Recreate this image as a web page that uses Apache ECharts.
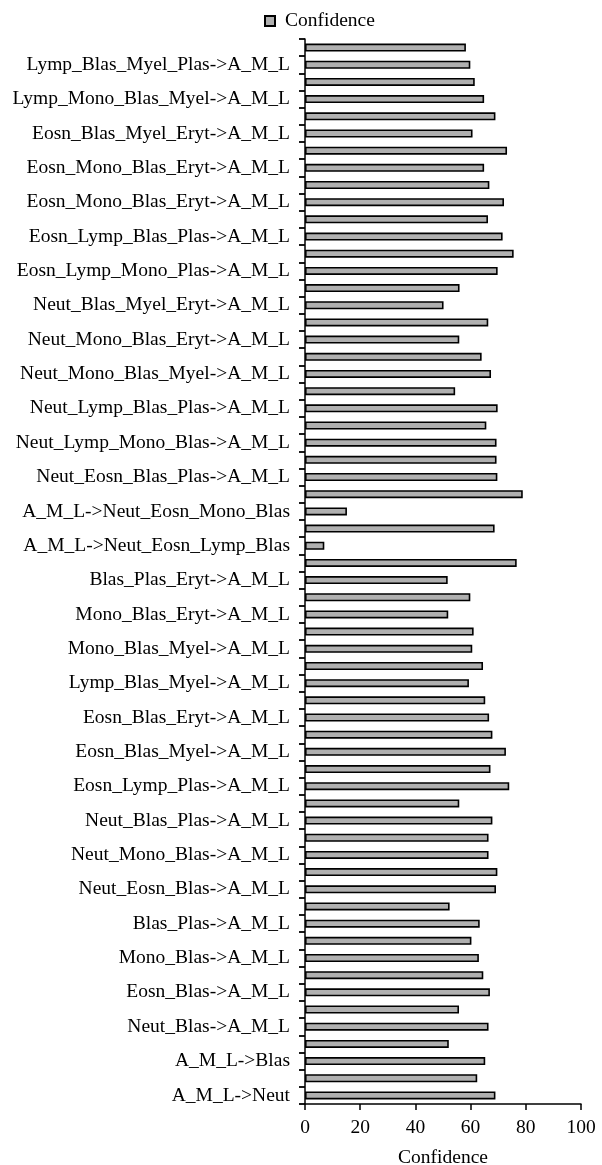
<!DOCTYPE html>
<html>
<head>
<meta charset="utf-8">
<title>Confidence</title>
<script src="https://cdn.jsdelivr.net/npm/echarts@6/dist/echarts.min.js"></script>
<style>
  html, body { margin: 0; padding: 0; background: #fff; }
  #chart { width: 602px; height: 1165px; }
</style>
</head>
<body>
<div id="chart"></div>
<script>
// labels shown on the axis, top to bottom (every second bar carries one)
var ruleLabels = [
  'Lymp_Blas_Myel_Plas->A_M_L',
  'Lymp_Mono_Blas_Myel->A_M_L',
  'Eosn_Blas_Myel_Eryt->A_M_L',
  'Eosn_Mono_Blas_Eryt->A_M_L',
  'Eosn_Mono_Blas_Eryt->A_M_L',
  'Eosn_Lymp_Blas_Plas->A_M_L',
  'Eosn_Lymp_Mono_Plas->A_M_L',
  'Neut_Blas_Myel_Eryt->A_M_L',
  'Neut_Mono_Blas_Eryt->A_M_L',
  'Neut_Mono_Blas_Myel->A_M_L',
  'Neut_Lymp_Blas_Plas->A_M_L',
  'Neut_Lymp_Mono_Blas->A_M_L',
  'Neut_Eosn_Blas_Plas->A_M_L',
  'A_M_L->Neut_Eosn_Mono_Blas',
  'A_M_L->Neut_Eosn_Lymp_Blas',
  'Blas_Plas_Eryt->A_M_L',
  'Mono_Blas_Eryt->A_M_L',
  'Mono_Blas_Myel->A_M_L',
  'Lymp_Blas_Myel->A_M_L',
  'Eosn_Blas_Eryt->A_M_L',
  'Eosn_Blas_Myel->A_M_L',
  'Eosn_Lymp_Plas->A_M_L',
  'Neut_Blas_Plas->A_M_L',
  'Neut_Mono_Blas->A_M_L',
  'Neut_Eosn_Blas->A_M_L',
  'Blas_Plas->A_M_L',
  'Mono_Blas->A_M_L',
  'Eosn_Blas->A_M_L',
  'Neut_Blas->A_M_L',
  'A_M_L->Blas',
  'A_M_L->Neut'
];

// confidence of every bar, top to bottom
var confidence = [
  58.3, 59.9, 61.5, 64.9, 69.0, 60.7, 73.2, 64.9, 66.8, 72.1,
  66.3, 71.6, 75.6, 69.8, 56.0, 50.2, 66.4, 55.9, 64.0, 67.4,
  54.4, 69.8, 65.7, 69.4, 69.4, 69.7, 78.9, 15.2, 68.7, 7.0,
  76.7, 51.7, 59.9, 51.9, 61.1, 60.6, 64.5, 59.4, 65.3, 66.7,
  67.9, 72.8, 67.2, 74.0, 55.9, 67.9, 66.5, 66.5, 69.7, 69.2,
  52.4, 63.3, 60.3, 63.0, 64.6, 67.0, 55.8, 66.5, 52.1, 65.3,
  62.4, 69.0
];

var xTicks = [0, 20, 40, 60, 80, 100];

// the odd bars (counting from the top, starting at 0) carry the labels
var categories = confidence.map(function (v, i) {
  return i % 2 === 1 ? ruleLabels[(i - 1) / 2] : '';
});

var serif = "'Liberation Serif', 'Times New Roman', serif";

var option = {
  animation: false,
  backgroundColor: '#fff',
  textStyle: { fontFamily: serif, color: '#000' },
  legend: {
    top: 6,
    left: 259,
    icon: 'rect',
    itemWidth: 10,
    itemHeight: 10,
    itemGap: 10,
    textStyle: { fontFamily: serif, fontSize: 19.5, color: '#000', padding: [0, 0, 0, 5] },
    data: ['Confidence']
  },
  grid: {
    left: 305,
    right: 21,
    top: 39,
    bottom: 61,
    containLabel: false,
    outerBoundsMode: 'none'
  },
  xAxis: {
    type: 'value',
    min: xTicks[0],
    max: xTicks[xTicks.length - 1],
    interval: xTicks[1] - xTicks[0],
    name: 'Confidence',
    nameLocation: 'middle',
    nameGap: 44,
    nameTextStyle: { fontFamily: serif, fontSize: 19.5, color: '#000' },
    axisLine: { show: true, lineStyle: { color: '#000', width: 1.5 } },
    axisTick: { show: true, length: 6, lineStyle: { color: '#000', width: 1.5 } },
    axisLabel: { fontFamily: serif, fontSize: 19.5, color: '#000', margin: 14 },
    splitLine: { show: false }
  },
  yAxis: {
    type: 'category',
    inverse: true,
    data: categories,
    axisLine: { show: true, lineStyle: { color: '#000', width: 1.5 } },
    axisTick: { show: true, interval: 0, length: 6, lineStyle: { color: '#000', width: 1.8 } },
    axisLabel: { interval: 0, fontFamily: serif, fontSize: 19.5, color: '#000', margin: 15 },
    splitLine: { show: false }
  },
  series: [
    {
      name: 'Confidence',
      type: 'bar',
      barWidth: 8,
      itemStyle: { color: '#b0b0b0', borderColor: '#000', borderWidth: 1.6 },
      data: confidence
    }
  ]
};

var myChart = echarts.init(document.getElementById('chart'));
myChart.setOption(option);
</script>
</body>
</html>
